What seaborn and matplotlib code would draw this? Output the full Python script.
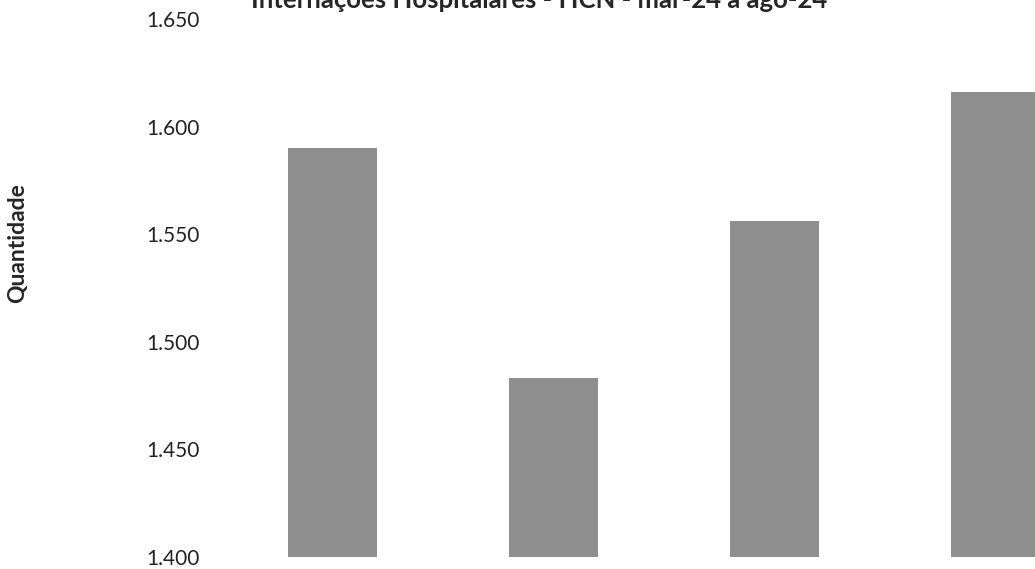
import pandas as pd
import matplotlib.pyplot as plt
import matplotlib.ticker as mticker
import seaborn as sns

# --------------------------------------------------
# Data
# --------------------------------------------------

meses = ["mar-24", "abr-24", "mai-24", "jun-24"]
internacoes = [1590, 1483, 1556, 1616]

y_ticks = [1400, 1450, 1500, 1550, 1600, 1650]

df = pd.DataFrame({"Mes": meses, "Quantidade": internacoes})

# --------------------------------------------------
# Plot
# --------------------------------------------------

sns.set_style("white")
plt.rcParams["font.family"] = ["Lato", "DejaVu Sans"]

fig = plt.figure(figsize=(10.35, 5.69), dpi=100)
ax = fig.add_axes([215 / 1035, 12 / 569, 1 - 215 / 1035, 538 / 569])

sns.barplot(
    data=df,
    x="Mes",
    y="Quantidade",
    color="#8f8f8f",
    saturation=1,
    width=0.4,
    edgecolor="none",
    ax=ax
)

ax.set_ylim(1400, 1650)
ax.set_xlim(-0.532, 3.179)
ax.set_yticks(y_ticks)
ax.yaxis.set_major_formatter(
    mticker.FuncFormatter(lambda v, p: f"{v:,.0f}".replace(",", "."))
)
ax.tick_params(axis="y", length=0, pad=11, labelsize=15, labelcolor="#222222")
ax.set_xticks([])
ax.set_xlabel("")
ax.set_ylabel("")
sns.despine(ax=ax, left=True, bottom=True)

fig.text(18 / 1035, 1 - 243 / 569, "Quantidade", rotation=90,
         ha="center", va="center", fontsize=16.5, fontweight="bold")
fig.text(539 / 1035, 1 - 8 / 569, "Internações Hospitalares - HCN - mar-24 a ago-24",
         ha="center", va="baseline", fontsize=18.5, fontweight="bold")

fig.savefig("out.png", dpi=100)
plt.close(fig)
